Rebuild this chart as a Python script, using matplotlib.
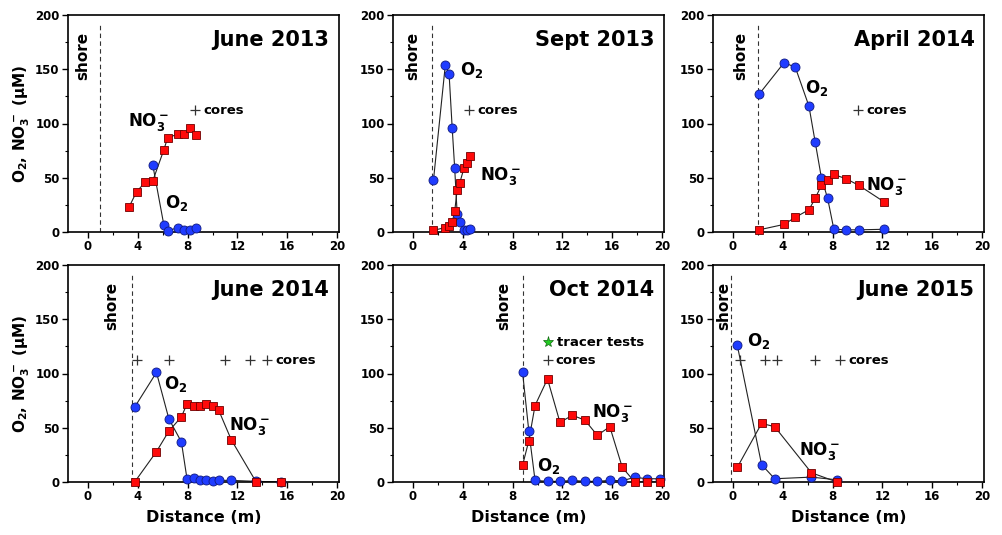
import numpy as np
import matplotlib
matplotlib.use('Agg')
import matplotlib.pyplot as plt

plt.rcParams['font.family'] = ['DejaVu Sans']
plt.rcParams['font.weight'] = 'bold'
plt.rcParams['axes.labelweight'] = 'bold'
plt.rcParams['mathtext.default'] = 'regular'

# ---- data (distance in m, concentrations in uM) ----
# June 2013
jun13_o2_x = [5.2, 6.1, 6.4, 7.2, 7.7, 8.2, 8.7]
jun13_o2 = [62, 6, 1, 4, 1.5, 1.5, 3.5]
jun13_no3_x = [3.3, 3.9, 4.6, 5.2, 6.1, 6.4, 7.2, 7.7, 8.2, 8.7]
jun13_no3 = [23, 37, 46, 47, 76, 87, 90, 90, 96, 89]
jun13_cores = [8.6]
jun13_shore = 0.95

# Sept 2013
sep13_o2_x = [1.65, 2.6, 2.9, 3.15, 3.35, 3.55, 3.75, 4.1, 4.3, 4.55]
sep13_o2 = [48, 154, 146, 96, 59, 17, 9, 1.5, 2, 3]
sep13_no3_x = [1.65, 2.55, 2.9, 3.15, 3.35, 3.55, 3.75, 4.1, 4.35, 4.55]
sep13_no3 = [1.5, 4, 5.5, 9, 19, 39, 45, 59, 64, 70]
sep13_cores = [4.5]
sep13_shore = 1.5

# April 2014
apr14_o2_x = [2.1, 4.1, 5.0, 6.1, 6.6, 7.1, 7.6, 8.1, 9.1, 10.1, 12.1]
apr14_o2 = [127, 156, 152, 116, 83, 50, 31, 2.5, 2, 2, 2.5]
apr14_no3_x = [2.1, 4.1, 5.0, 6.1, 6.6, 7.1, 7.6, 8.1, 9.1, 10.1, 12.1]
apr14_no3 = [2, 7, 13.5, 20.5, 31, 43, 48, 53, 49, 43, 28]
apr14_cores = [10.05]
apr14_shore = 2.05

# June 2014
jun14_o2_x = [3.75, 5.5, 6.5, 7.5, 7.95, 8.5, 9.0, 9.5, 10.0, 10.5, 11.5, 13.5, 15.5]
jun14_o2 = [69, 101, 58, 37, 3, 3.5, 2, 2, 1, 1.5, 1.5, 0.6, 0]
jun14_no3_x = [3.75, 5.5, 6.5, 7.5, 7.95, 8.5, 9.0, 9.5, 10.0, 10.5, 11.5, 13.5, 15.5]
jun14_no3 = [0, 28, 47, 60, 72, 70, 70, 72, 70, 66, 39, 0, 0]
jun14_cores = [3.9, 6.5, 11.0, 13.0, 14.4]
jun14_shore = 3.5

# Oct 2014
oct14_o2_x = [8.8, 9.3, 9.8, 10.8, 11.8, 12.8, 13.8, 14.8, 15.8, 16.8, 17.8, 18.8, 19.8]
oct14_o2 = [101, 47, 1.5, 0.6, 0.6, 1.5, 0.6, 0.6, 1.5, 1.2, 4.3, 3, 3]
oct14_no3_x = [8.8, 9.3, 9.8, 10.8, 11.8, 12.8, 13.8, 14.8, 15.8, 16.8, 17.8, 18.8, 19.8]
oct14_no3 = [15.5, 38, 70.5, 95, 55, 61.5, 57, 43, 51, 13.5, 0, 0, 0]
oct14_cores = [10.8]
oct14_tracer = [10.8]
oct14_shore = 8.8

# June 2015
jun15_o2_x = [0.35, 2.3, 3.35, 6.3, 8.35]
jun15_o2 = [126, 16, 3, 4.5, 2]
jun15_no3_x = [0.35, 2.3, 3.35, 6.3, 8.35]
jun15_no3 = [13.5, 54, 51, 8.5, 0]
jun15_cores = [0.6, 2.55, 3.55, 6.55, 8.6]
jun15_shore = -0.15

titles = ['June 2013', 'Sept 2013', 'April 2014', 'June 2014', 'Oct 2014', 'June 2015']

panels = [
    (jun13_o2_x, jun13_o2, jun13_no3_x, jun13_no3, jun13_cores, jun13_shore, []),
    (sep13_o2_x, sep13_o2, sep13_no3_x, sep13_no3, sep13_cores, sep13_shore, []),
    (apr14_o2_x, apr14_o2, apr14_no3_x, apr14_no3, apr14_cores, apr14_shore, []),
    (jun14_o2_x, jun14_o2, jun14_no3_x, jun14_no3, jun14_cores, jun14_shore, []),
    (oct14_o2_x, oct14_o2, oct14_no3_x, oct14_no3, oct14_cores, oct14_shore, oct14_tracer),
    (jun15_o2_x, jun15_o2, jun15_no3_x, jun15_no3, jun15_cores, jun15_shore, []),
]

# label placement (data coords): O2 label, NO3 label, "shore" text x
o2_lab = [(6.2, 22), (3.75, 145), (5.75, 128), (6.1, 86), (9.95, 10), (1.1, 125)]
no3_lab = [(3.2, 98), (5.35, 48), (10.7, 39), (11.3, 48), (14.35, 60), (5.3, 25)]
shore_lab = [-0.4, 0.0, 0.65, 1.9, 7.3, -0.75]
cores_level = 112
tracer_level = 129

# ---- figure ----
W, H = 1003, 535
fig = plt.figure(figsize=(W / 100, H / 100), dpi=100)

lefts = [68, 393, 713]
tops = [15, 265]
pw, ph = 271, 217

blue = '#1f3cff'
red = '#ff0a0a'

for k, (ox, oy, nx, ny, cores, shore, tracer) in enumerate(panels):
    r, c = divmod(k, 3)
    ax = fig.add_axes([lefts[c] / W, 1 - (tops[r] + ph) / H, pw / W, ph / H])

    ax.plot(ox, oy, '-', color='#222222', lw=0.8, zorder=2)
    ax.plot(nx, ny, '-', color='#222222', lw=0.8, zorder=2)
    ax.plot(ox, oy, 'o', ls='none', ms=6.5, mfc=blue, mec='#101a80', mew=0.6, zorder=3, clip_on=False)
    ax.plot(nx, ny, 's', ls='none', ms=5.8, mfc=red, mec='#700000', mew=0.6, zorder=4, clip_on=False)

    ax.axvline(shore, ymin=0, ymax=0.97, color='#333333', lw=0.8, ls=(0, (4, 3)), zorder=1)
    ax.text(shore_lab[k], 162, 'shore', rotation=90, ha='center', va='center', fontsize=11)

    ax.plot(cores, [cores_level] * len(cores), '+', ls='none', color='#333333', ms=6.5, mew=0.9)
    ax.annotate('cores', (cores[-1], cores_level), xytext=(6, 0), textcoords='offset points',
                ha='left', va='center', fontsize=9.5)
    if tracer:
        ax.plot(tracer, [tracer_level] * len(tracer), '*', ls='none', ms=8, mfc='#22cc22', mec='#116611', mew=0.5)
        ax.annotate('tracer tests', (tracer[-1], tracer_level), xytext=(7, 0), textcoords='offset points',
                    ha='left', va='center', fontsize=9.5)

    ax.text(o2_lab[k][0], o2_lab[k][1], 'O$_2$', fontsize=12, ha='left', va='baseline')
    ax.text(no3_lab[k][0], no3_lab[k][1], 'NO$_3^-$', fontsize=12, ha='left', va='baseline')
    ax.text(0.965, 0.885, titles[k], transform=ax.transAxes, ha='right', va='center', fontsize=15)

    ax.set_xlim(-1.6, 20.15)
    ax.set_ylim(0, 200)
    ax.set_xticks([0, 4, 8, 12, 16, 20])
    ax.set_xticks(np.arange(2, 20, 4), minor=True)
    ax.set_yticks([0, 50, 100, 150, 200])
    ax.set_yticks([25, 75, 125, 175], minor=True)
    ax.tick_params(which='major', direction='out', length=4, width=1, labelsize=8.5, pad=2)
    ax.tick_params(which='minor', direction='out', length=2.5, width=0.8)
    for lbl in ax.get_xticklabels() + ax.get_yticklabels():
        lbl.set_fontweight('bold')
    for sp in ax.spines.values():
        sp.set_linewidth(1.2)
    if r == 1:
        ax.set_xlabel('Distance (m)', fontsize=11.5, fontweight='bold', labelpad=5)

for r in range(2):
    yc = 1 - (tops[r] + ph / 2) / H
    fig.text(22 / W, yc, 'O$_2$, NO$_3^-$ (µM)', rotation=90, ha='center', va='center', fontsize=11)

fig.savefig('out.png', dpi=100)
